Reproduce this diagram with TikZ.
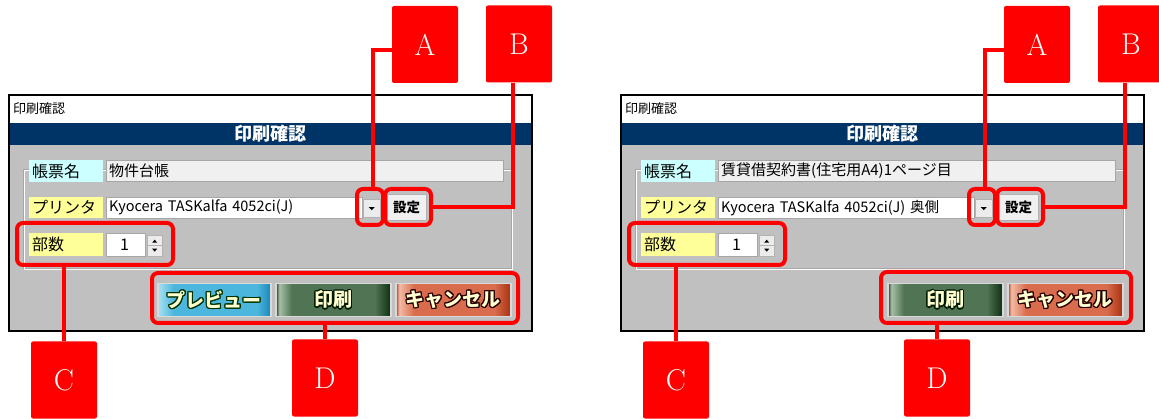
\documentclass[tikz,border=0pt]{standalone}
\usepackage{fontspec}
\usepackage[copies]{contour}
\newfontfamily\jp{Noto Sans CJK JP}
\contourlength{1.2pt}

\definecolor{winbg}{HTML}{C0C0C0}
\definecolor{navy}{HTML}{003366}
\definecolor{lblcyan}{HTML}{CCFFFF}
\definecolor{lblyellow}{HTML}{FFFF99}
\definecolor{fldgray}{HTML}{F0F0F0}
\definecolor{btntext}{HTML}{FFFFD0}
% button colours
\definecolor{bluelt}{HTML}{A8E2F2}
\definecolor{bluemid}{HTML}{4DB6DC}
\definecolor{bluedk}{HTML}{1A86BA}
\definecolor{greenlt}{HTML}{A8C0A6}
\definecolor{greenmid}{HTML}{507454}
\definecolor{greendk}{HTML}{0E2E10}
\definecolor{redlt}{HTML}{F2BCA6}
\definecolor{redmid}{HTML}{D86C4C}
\definecolor{reddk}{HTML}{A8300F}

% the node covers 25bp..75bp of each shading
\pgfdeclarehorizontalshading{previewshade}{100bp}{color(0bp)=(bluelt); color(25bp)=(bluelt); color(32bp)=(bluemid); color(69bp)=(bluemid); color(75bp)=(bluedk); color(100bp)=(bluedk)}
\pgfdeclarehorizontalshading{printshade}{100bp}{color(0bp)=(greendk); color(25bp)=(greendk); color(26.5bp)=(greenlt); color(32bp)=(greenmid); color(68bp)=(greenmid); color(75bp)=(greendk); color(100bp)=(greendk)}
\pgfdeclarehorizontalshading{cancelshade}{100bp}{color(0bp)=(reddk); color(25bp)=(reddk); color(26.5bp)=(redlt); color(33bp)=(redmid); color(68bp)=(redmid); color(75bp)=(reddk); color(100bp)=(reddk)}

\tikzset{
  cell/.style={anchor=north west, inner xsep=3pt, inner ysep=0pt, text width=68pt,
    minimum height=22pt, align=left, font=\jp\fontsize{16}{16}\selectfont},
  small/.style={anchor=north west, inner sep=0pt, fill=gray!15, draw=gray!60},
  btn/.style={anchor=north west, inner sep=0pt, minimum height=33pt, draw=gray!30,
    line width=1.5pt, text=btntext, font=\jp\bfseries\fontsize{19}{19}\selectfont},
  hl/.style={draw=red, line width=4pt, rounded corners=6pt, inner sep=0pt},
  lbl/.style={fill=red, text=white, rounded corners=2pt, minimum width=66pt,
    minimum height=77pt, inner sep=0pt, font=\fontsize{30}{30}\selectfont},
  callout/.style={draw=red, line width=4.5pt}
}

% one print dialog: #1 suffix, #2 x offset, #3 form name, #4 printer
\newcommand{\printdialog}[4]{%
  \begin{scope}[shift={(#2,0)}]
    % window
    \draw[fill=winbg, line width=2pt] (9,95) rectangle (532,331);
    \fill[white] (10,96) rectangle (531,123);
    \fill[navy] (10,123) rectangle (531,145);
    \node[anchor=west, inner sep=0pt, font=\jp\fontsize{13}{13}\selectfont] (cap#1) at (13,109) {印刷確認};
    \node[text=white, font=\jp\bfseries\fontsize{18}{18}\selectfont] (ttl#1) at (270,134) {印刷確認};
    \draw[gray!70] (23,169) rectangle (511,268);
    \draw[white] (24,170) rectangle (512,269);
    % fields
    \node[cell, fill=lblcyan] (formlbl#1) at (29,160) {帳票名};
    \node[cell, fill=fldgray, draw=gray!70, text width=391pt, minimum height=21pt,
      font=\jp\fontsize{15}{15}\selectfont] (form#1) at (106,160) {#3};
    \node[cell, fill=lblyellow, minimum height=21pt] (prnlbl#1) at (29,197) {プリンタ};
    \node[cell, fill=white, draw=gray!70, text width=250pt, minimum height=21pt,
      font=\jp\fontsize{14.5}{15}\selectfont] (prn#1) at (106,197) {#4};
    \node[small, minimum width=17pt, minimum height=18pt] (dd#1) at (363,199) {};
    \fill (dd#1.center) ++(-3,-1) -- ++(6,0) -- ++(-3,3) -- cycle;
    \node[small, fill=fldgray, minimum width=39pt, minimum height=26pt,
      font=\jp\bfseries\fontsize{13.5}{14}\selectfont] (setup#1) at (387,194) {設定};
    \node[cell, fill=lblyellow, minimum height=23pt] (copieslbl#1) at (29,233) {部数};
    \node[cell, fill=white, draw=gray!70, text width=33pt, minimum height=23pt] (copies#1) at (106,233) {\hspace{11pt}1};
    \node[small, minimum width=15pt, minimum height=21pt] (spin#1) at (147,235) {};
    \draw[gray!60] (spin#1.west) -- (spin#1.east);
    \fill (spin#1.center) ++(-2.5,-3) -- ++(5,0) -- ++(-2.5,-3) -- cycle;
    \fill (spin#1.center) ++(-2.5,3) -- ++(5,0) -- ++(-2.5,3) -- cycle;
    % buttons
    \node[btn, minimum width=115pt, shading=printshade] (print#1) at (275,283) {\contour{black!90!green}{印刷}};
    \node[btn, minimum width=115pt, shading=cancelshade] (cancel#1) at (395,283) {\contour{black!85!red}{キャンセル}};
    % highlights and labels
    \node[hl, minimum width=26pt, minimum height=36pt] (hlA#1) at (370,207) {};
    \node[hl, minimum width=46pt, minimum height=36pt] (hlB#1) at (408,207) {};
    \node[hl, minimum width=156pt, minimum height=42pt] (hlC#1) at (95,244) {};
    \node[lbl] (lblA#1) at (425,44.5) {A};
    \node[lbl] (lblB#1) at (519,44) {B};
    \node[lbl] (lblC#1) at (64,380) {C};
    \node[lbl] (lblD#1) at (325,378) {D};
  \end{scope}
  \draw[callout] ([xshift=3pt]hlA#1.north) |- ([yshift=-5.5pt]lblA#1.west);
  \draw[callout] (hlB#1.east) -| ([xshift=-6pt]lblB#1.south);
  \draw[callout] (hlC#1.south -| lblC#1.north) -- (lblC#1.north);
}

\begin{document}
\begin{tikzpicture}[x=1pt, y=-1pt]
  \useasboundingbox (0,0) rectangle (1159,419);

  \printdialog{1}{0}{物件台帳}{Kyocera TASKalfa 4052ci(J)}
  \printdialog{2}{612}{賃貸借契約書(住宅用A4)1ページ目}{Kyocera TASKalfa 4052ci(J) 奥側}

  % preview button only on the first dialog
  \node[btn, minimum width=113pt, shading=previewshade] (preview1) at (157,283) {\contour{black!80!green}{プレビュー}};

  \node[hl, minimum width=366pt, minimum height=50pt] (hlD1) at (335,298) {};
  \node[hl, minimum width=250pt, minimum height=51pt] (hlD2) at (1006,297.5) {};
  \draw[callout] (hlD1.south -| lblD1.north) -- (lblD1.north);
  \draw[callout] (hlD2.south -| lblD2.north) -- (lblD2.north);
\end{tikzpicture}
\end{document}
